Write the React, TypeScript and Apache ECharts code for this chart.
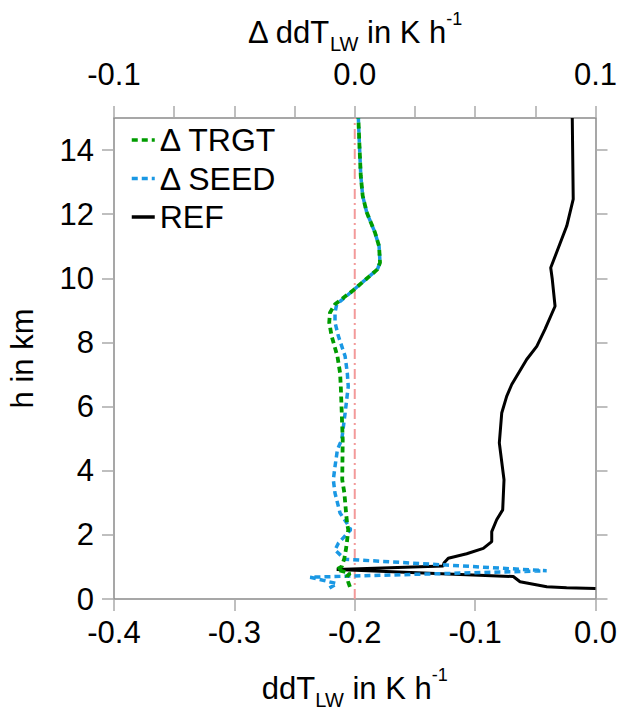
import React, { useEffect, useRef } from 'react';
import * as echarts from 'echarts';

// REF profile: height (km) and ddT_LW (K/h), bottom axis
const refH = [0.33, 0.35, 0.38, 0.54, 0.70, 0.92, 1.03, 1.12, 1.27, 1.41, 1.58, 1.79, 2.10, 2.47, 2.78, 3.72, 4.87, 5.80, 6.32, 6.69, 7.47, 7.88, 8.41, 9.13, 9.97, 10.33, 11.63, 12.47, 15.0];
const refV = [0.0, -0.024, -0.0405, -0.0627, -0.0683, -0.215, -0.1265, -0.1259, -0.1223, -0.107, -0.0932, -0.0862, -0.0862, -0.0821, -0.0771, -0.076, -0.0799, -0.0779, -0.0738, -0.0696, -0.0572, -0.0488, -0.042, -0.0336, -0.0359, -0.0372, -0.0239, -0.0185, -0.0193];

// Δ TRGT profile, top axis
const trgtH = [0.38, 0.53, 0.70, 0.80, 0.92, 1.01, 1.27, 1.53, 1.74, 2.16, 2.37, 2.68, 3.30, 3.72, 4.97, 5.80, 6.63, 7.05, 7.57, 8.20, 8.62, 8.93, 9.19, 9.63, 10.28, 10.49, 11.0, 11.43, 12.05, 12.57, 13.2, 14.24, 15.0];
const trgtD = [-0.002, -0.0027, -0.0033, -0.002, -0.0075, -0.0054, -0.0043, -0.0037, -0.0033, -0.0027, -0.0032, -0.0036, -0.0043, -0.0052, -0.005, -0.0054, -0.0058, -0.0061, -0.0072, -0.0096, -0.0106, -0.0103, -0.0082, -0.0006, 0.0094, 0.0105, 0.0101, 0.0084, 0.005, 0.0033, 0.0025, 0.0019, 0.0015];

// Δ SEED profile, top axis
const seedH = [0.34, 0.48, 0.68, 0.88, 1.24, 1.53, 1.74, 2.16, 2.37, 2.68, 3.30, 3.72, 4.13, 4.66, 4.97, 5.80, 6.63, 7.05, 7.57, 8.20, 8.62, 8.93, 9.19, 9.63, 10.28, 10.49, 11.0, 11.43, 12.05, 12.57, 13.2, 14.24, 15.0];
const seedD = [-0.0105, -0.0075, -0.0185, 0.0797, -0.0041, -0.0082, -0.0068, -0.0017, -0.0033, -0.0061, -0.0082, -0.0089, -0.0082, -0.0072, -0.0054, -0.004, -0.0027, -0.0031, -0.004, -0.0068, -0.0082, -0.0082, -0.0075, -0.0006, 0.0094, 0.0105, 0.0101, 0.0084, 0.005, 0.0033, 0.0025, 0.0019, 0.0015];

const zeroLineH = [0, 15];
const zeroLineD = [0, 0];

const bottomMin = -0.4;
const bottomMax = 0.0;
const bottomStep = 0.1;
const topMin = -0.1;
const topMax = 0.1;
const topStep = 0.025;
const topLabelValues = [-0.1, 0.0, 0.1];
const hTicks = [0, 2, 4, 6, 8, 10, 12, 14];

const legendNames = ['Δ TRGT', 'Δ SEED', 'REF'];

export default function App() {
  const ref = useRef<HTMLDivElement>(null);
  useEffect(() => {
    if (!ref.current) return;
    const chart = echarts.init(ref.current, null, { renderer: 'svg' });
    const font = '"Liberation Sans", Arial, Helvetica, sans-serif';
    const rich: any = {
      m: { fontSize: 31, lineHeight: 44, fontFamily: font, color: '#000' },
      sub: { fontSize: 20, lineHeight: 20, verticalAlign: 'bottom', fontFamily: font, color: '#000' },
      sup: { fontSize: 18, lineHeight: 34, verticalAlign: 'top', fontFamily: font, color: '#000' },
    };
    const axisLine = { show: true, onZero: false, lineStyle: { color: '#8a8a8a', width: 1.5 } };
    const axisTick = { show: true, inside: false, length: 12, lineStyle: { color: '#aaaaaa', width: 1.5 } };
    const labelStyle = { fontSize: 31, color: '#000', fontFamily: font };
    const fmt1 = (v: number) => (Math.abs(v) < 1e-9 ? '0.0' : v.toFixed(1));

    const pairs = (xs: number[], ys: number[]) => xs.map((x, i) => [x, ys[i]]);

    chart.setOption({
      animation: false,
      backgroundColor: '#fff',
      grid: { left: 114, right: 25.5, top: 118, bottom: 111, containLabel: false, outerBoundsMode: 'none' },
      legend: {
        data: legendNames,
        orient: 'vertical',
        left: 125,
        top: 118.5,
        itemWidth: 23,
        itemHeight: 2,
        itemGap: 5.5,
        itemStyle: { opacity: 0 },
        lineStyle: { width: 3.5 },
        textStyle: { fontSize: 32, lineHeight: 33, color: '#000', fontFamily: font },
      },
      xAxis: [
        {
          type: 'value',
          position: 'bottom',
          min: bottomMin,
          max: bottomMax,
          interval: bottomStep,
          axisLine,
          axisTick,
          splitLine: { show: false },
          axisLabel: { ...labelStyle, margin: 18, formatter: fmt1 },
          name: '{m|ddT}{sub|LW}{m| in K h}{sup|-1}',
          nameLocation: 'middle',
          nameGap: 67,
          nameTextStyle: { rich },
        },
        {
          type: 'value',
          position: 'top',
          min: topMin,
          max: topMax,
          interval: topStep,
          axisLine,
          axisTick,
          splitLine: { show: false },
          axisLabel: {
            ...labelStyle,
            margin: 28,
            customValues: topLabelValues,
            formatter: (v: number) =>
              Math.abs(Math.round(v * 10) - v * 10) < 1e-6 ? fmt1(v) : '',
          },
          name: '{m|Δ ddT}{sub|LW}{m| in K h}{sup|-1}',
          nameLocation: 'middle',
          nameGap: 61,
          nameTextStyle: { rich },
        },
      ],
      yAxis: [
        {
          type: 'value',
          position: 'left',
          min: 0,
          max: 15,
          interval: 2,
          axisLine,
          axisTick: { ...axisTick, customValues: hTicks },
          splitLine: { show: false },
          axisLabel: {
            ...labelStyle,
            margin: 20,
            customValues: hTicks,
            formatter: (v: number) => (v < 15 ? String(v) : ''),
          },
          name: 'h in km',
          nameLocation: 'middle',
          nameGap: 76,
          nameTextStyle: { fontSize: 31, color: '#000', fontFamily: font },
        },
        {
          type: 'value',
          position: 'right',
          min: 0,
          max: 15,
          interval: 2,
          axisLine,
          axisTick: { ...axisTick, customValues: hTicks },
          splitLine: { show: false },
          axisLabel: { show: false },
        },
      ],
      series: [
        {
          name: 'zero',
          type: 'line',
          xAxisIndex: 1,
          yAxisIndex: 0,
          data: pairs(zeroLineD, zeroLineH),
          symbol: 'none',
          silent: true,
          lineStyle: { color: '#f39a9a', width: 2, type: [10, 4, 2, 4] },
        },
        {
          name: 'REF',
          type: 'line',
          xAxisIndex: 0,
          yAxisIndex: 0,
          data: pairs(refV, refH),
          symbol: 'none',
          lineStyle: { color: '#000', width: 3 },
          itemStyle: { color: '#000' },
        },
        {
          name: 'Δ SEED',
          type: 'line',
          xAxisIndex: 1,
          yAxisIndex: 0,
          data: pairs(seedD, seedH),
          symbol: 'none',
          lineStyle: { color: '#1a98e4', width: 3.5, type: [6, 4] },
          itemStyle: { color: '#1a98e4' },
        },
        {
          name: 'Δ TRGT',
          type: 'line',
          xAxisIndex: 1,
          yAxisIndex: 0,
          data: pairs(trgtD, trgtH),
          symbol: 'none',
          lineStyle: { color: '#009c00', width: 3.8, type: [6, 4] },
          itemStyle: { color: '#009c00' },
        },
      ],
    });
    return () => chart.dispose();
  }, []);
  return <div ref={ref} style={{ position: 'fixed', left: 0, top: 0, width: 621, height: 710 }} />;
}
